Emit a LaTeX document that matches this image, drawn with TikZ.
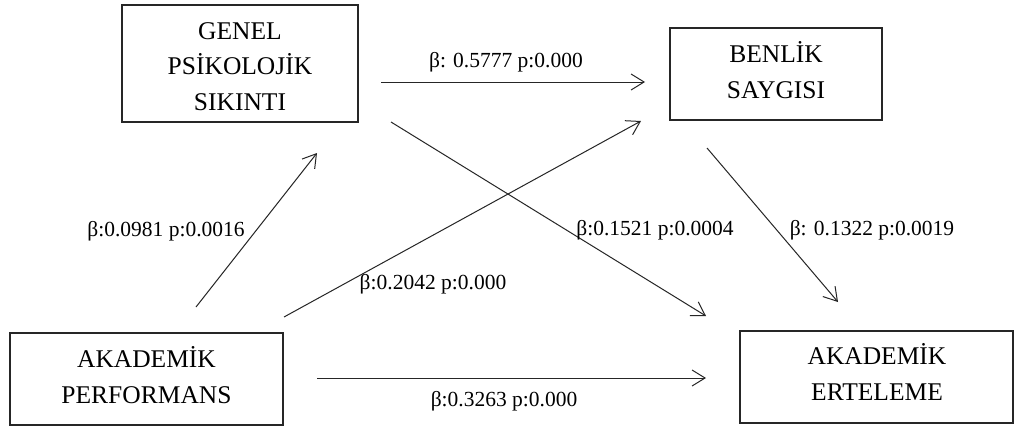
\documentclass[tikz,border=0pt]{standalone}
\usepackage{fontspec}
\setmainfont{Liberation Serif}
\usetikzlibrary{arrows.meta}
\begin{document}
\begin{tikzpicture}[x=1pt,y=-1pt,
  box/.style={draw=black!85,line width=1.1pt,inner sep=0pt},
  boxtxt/.style={anchor=base,inner sep=0pt,font=\fontsize{25.5}{30}\selectfont},
  lbl/.style={anchor=base,inner sep=0pt,font=\fontsize{21.5}{24}\selectfont},
  arr/.style={draw=black!85,line width=1pt,-{Straight Barb[length=13pt,width=16pt,line width=1pt]}}]
\useasboundingbox (0,0) rectangle (1014,426);
\fill[white] (0,0) rectangle (1014,426);
% boxes
\node[box,minimum width=236pt,minimum height=117pt] (gen) at (240,63.5) {};
\node[box,minimum width=212pt,minimum height=92pt] (ben) at (776,74) {};
\node[box,minimum width=273pt,minimum height=92pt] (perf) at (146.5,379) {};
\node[box,minimum width=273pt,minimum height=92pt] (ert) at (876.5,377) {};
% box texts
\node[boxtxt] (gen1) at (240,39) {GENEL};
\node[boxtxt] (gen2) at (240,74.5) {PSİKOLOJİK};
\node[boxtxt] (gen3) at (240,110) {SIKINTI};
\node[boxtxt] (ben1) at (776,62) {BENLİK};
\node[boxtxt] (ben2) at (776,98) {SAYGISI};
\node[boxtxt] (perf1) at (146.5,367) {AKADEMİK};
\node[boxtxt] (perf2) at (146.5,403) {PERFORMANS};
\node[boxtxt] (ert1) at (877,364) {AKADEMİK};
\node[boxtxt] (ert2) at (877,400) {ERTELEME};
% arrow end points
\coordinate (a1s) at (381,82);   \coordinate (a1e) at (645,82);
\coordinate (a2s) at (391,122);  \coordinate (a2e) at (706,316);
\coordinate (a3s) at (707,148);  \coordinate (a3e) at (838,302);
\coordinate (a4s) at (196,307);  \coordinate (a4e) at (317,153);
\coordinate (a5s) at (284,317);  \coordinate (a5e) at (641,121);
\coordinate (a6s) at (317,378);  \coordinate (a6e) at (706,378);
\draw[arr] (a1s) -- (a1e);
\draw[arr] (a2s) -- (a2e);
\draw[arr] (a3s) -- (a3e);
\draw[arr] (a4s) -- (a4e);
\draw[arr] (a5s) -- (a5e);
\draw[arr] (a6s) -- (a6e);
% labels
\node[lbl] (l1) at (506,67) {β: 0.5777 p:0.000};
\node[lbl] (l2) at (655,235) {β:0.1521 p:0.0004};
\node[lbl] (l3) at (872,235) {β: 0.1322 p:0.0019};
\node[lbl] (l4) at (166,236) {β:0.0981 p:0.0016};
\node[lbl] (l5) at (433,289) {β:0.2042 p:0.000};
\node[lbl] (l6) at (504,406) {β:0.3263 p:0.000};
\end{tikzpicture}
\end{document}
